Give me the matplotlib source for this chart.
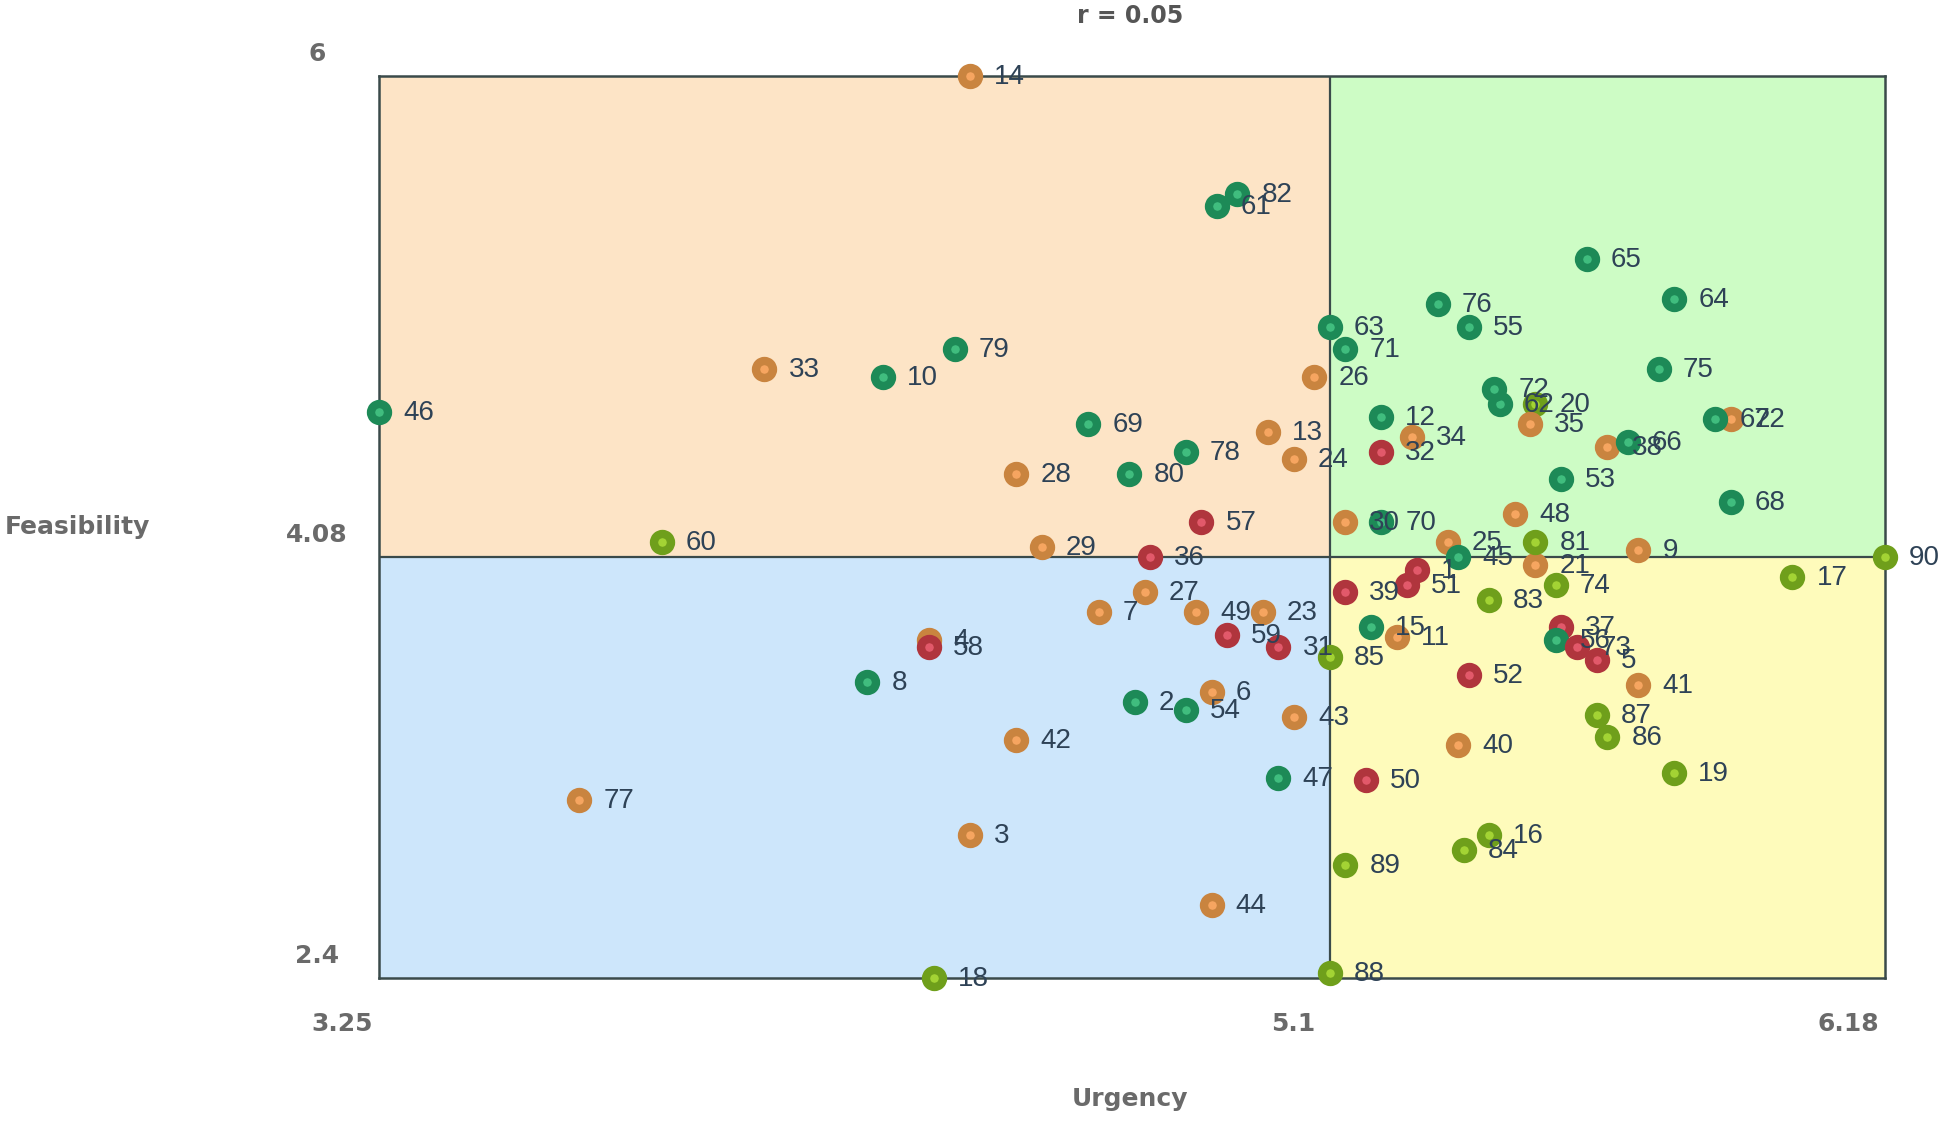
import matplotlib
matplotlib.use('Agg')
import matplotlib.pyplot as plt
from matplotlib.patches import Rectangle

# Urgency / feasibility scores for each numbered item
ids = list(range(1, 91))
urgency = [5.27, 4.72, 4.40, 4.32, 5.62, 4.87, 4.65, 4.20, 5.70, 4.23,
           5.23, 5.20, 4.98, 4.40, 5.18, 5.41, 6.00, 4.33, 5.77, 5.50,
           5.50, 5.88, 4.97, 5.03, 5.33, 5.07, 4.74, 4.49, 4.54, 5.13,
           5.00, 5.20, 4.00, 5.26, 5.49, 4.75, 5.55, 5.64, 5.13, 5.35,
           5.70, 4.49, 5.03, 4.87, 5.35, 3.25, 5.00, 5.46, 4.84, 5.17,
           5.25, 5.37, 5.55, 4.82, 5.37, 5.54, 4.85, 4.32, 4.90, 3.80,
           4.88, 5.43, 5.10, 5.77, 5.60, 5.68, 5.85, 5.88, 4.63, 5.20,
           5.13, 5.42, 5.58, 5.54, 5.74, 5.31, 3.64, 4.82, 4.37, 4.71,
           5.50, 4.92, 5.41, 5.36, 5.10, 5.64, 5.62, 5.10, 5.13, 6.18]
feasibility = [4.03, 3.50, 2.97, 3.75, 3.67, 3.54, 3.86, 3.58, 4.11, 4.80,
               3.76, 4.64, 4.58, 6.00, 3.80, 2.97, 4.00, 2.40, 3.22, 4.69,
               4.05, 4.63, 3.86, 4.47, 4.14, 4.80, 3.94, 4.41, 4.12, 4.22,
               3.72, 4.50, 4.83, 4.56, 4.61, 4.08, 3.80, 4.52, 3.94, 3.33,
               3.57, 3.35, 3.44, 2.69, 4.08, 4.66, 3.20, 4.25, 3.86, 3.19,
               3.97, 3.61, 4.39, 3.47, 5.00, 3.75, 4.22, 3.72, 3.77, 4.14,
               5.48, 4.69, 5.00, 5.11, 5.27, 4.54, 4.63, 4.30, 4.61, 4.22,
               4.91, 4.75, 3.72, 3.97, 4.83, 5.09, 3.11, 4.50, 4.91, 4.41,
               4.14, 5.53, 3.91, 2.91, 3.68, 3.36, 3.45, 2.42, 2.85, 4.08]
# G = green, O = orange, R = red, Y = yellow-green
groups = list("RGOOROOGOG"
              "OGOOGYYYYY"
              "OOOOOOOOOO"
              "RRO" "OORROR" "O"
              "OOOOGGGOOR"
              "RRGGGGRRRY"
              "GGGGGGGGGG"
              "GGRYGGOGGG"
              "YGYYYYYYYY")

x_min, x_max, x_split = 3.25, 6.18, 5.1
y_min, y_max, y_split = 2.4, 6.0, 4.08
r_value = 0.05

edge_colors = {'G': '#1d8a57', 'O': '#c9843f', 'R': '#b0353d', 'Y': '#6f9f1b'}
face_colors = {'G': '#40bd7e', 'O': '#f6a560', 'R': '#e2596a', 'Y': '#a3d334'}

fig = plt.figure(figsize=(19.44, 11.21), dpi=100)
ax = fig.add_axes([379 / 1944, 1 - 978 / 1121, (1885 - 379) / 1944, (978 - 76) / 1121])
ax.set_xlim(x_min, x_max)
ax.set_ylim(y_min, y_max)

# quadrant backgrounds
quads = [((x_min, y_split), x_split - x_min, y_max - y_split, '#fde4c6'),
         ((x_split, y_split), x_max - x_split, y_max - y_split, '#cdfcc5'),
         ((x_min, y_min), x_split - x_min, y_split - y_min, '#cde6fb'),
         ((x_split, y_min), x_max - x_split, y_split - y_min, '#fefbbb')]
for xy, w, h, c in quads:
    ax.add_patch(Rectangle(xy, w, h, facecolor=c, edgecolor='none', zorder=0))
ax.axvline(x_split, color='#3a4a4a', lw=1.6, zorder=1)
ax.axhline(y_split, color='#3a4a4a', lw=1.6, zorder=1)
for s in ax.spines.values():
    s.set_color('#3a4a4a')
    s.set_linewidth(1.8)
ax.set_xticks([])
ax.set_yticks([])

# markers, drawn in item order
for i, x, y, g in zip(ids, urgency, feasibility, groups):
    ax.scatter([x], [y], s=150, c=face_colors[g], edgecolors=edge_colors[g],
               linewidths=6, zorder=3 + i * 0.001, clip_on=False)

for i, x, y in zip(ids, urgency, feasibility):
    ax.annotate(str(i), (x, y), textcoords='offset pixels', xytext=(24, -1),
                ha='left', va='center', fontsize=20, color='#2e4256',
                family='Liberation Sans', zorder=5, annotation_clip=False)

# axis value labels, offset from the axis ends like in the original
tick_style = dict(fontsize=18, fontweight='bold', color='#6a6a6a',
                  family='DejaVu Sans', ha='center', va='center',
                  textcoords='offset pixels', annotation_clip=False)
for xv, txt in [(x_min, '3.25'), (x_split, '5.1'), (x_max, '6.18')]:
    ax.annotate(txt, (xv, y_min), xytext=(-37, -46), **tick_style)
for yv, txt in [(y_max, '6'), (y_split, '4.08'), (y_min, '2.4')]:
    ax.annotate(txt, (x_min, yv), xytext=(-62, 22), **tick_style)

fig.text(1130 / 1944, 1 - 16 / 1121, 'r = %.2f' % r_value, ha='center', va='center',
         fontsize=17, fontweight='bold', color='#555555')
fig.text(1130 / 1944, 1 - 1099 / 1121, 'Urgency', ha='center', va='center',
         fontsize=18, fontweight='bold', color='#6a6a6a')
fig.text(77 / 1944, 1 - 527 / 1121, 'Feasibility', ha='center', va='center',
         fontsize=18, fontweight='bold', color='#6a6a6a')

fig.savefig('out.png', dpi=100)
